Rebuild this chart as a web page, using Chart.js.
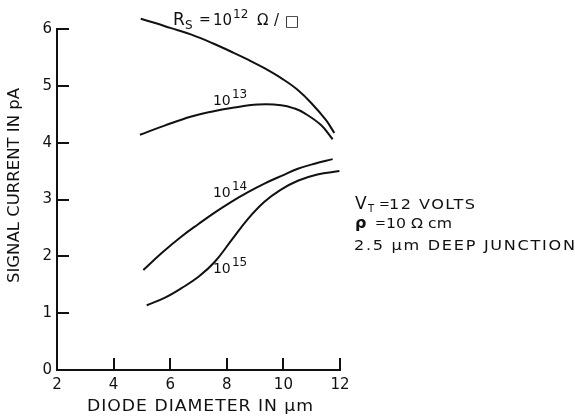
<!DOCTYPE html>
<html><head><meta charset="utf-8">
<script src="https://cdn.jsdelivr.net/npm/chart.js@4/dist/chart.umd.min.js"></script>
<style>html,body{margin:0;padding:0;background:#fff}#wrap{width:575px;height:416px}</style>
</head><body><div id="wrap"><canvas id="c" width="575" height="416"></canvas></div>
<script>
// ---- data ----
const xTicks = [2, 4, 6, 8, 10, 12];
const yTicks = [0, 1, 2, 3, 4, 5, 6];
const seriesNames = ['1e12', '1e13', '1e14', '1e15'];
const rs12X = [4.96, 5.5, 6.0, 6.75, 7.5, 8.16, 8.75, 9.33, 10.0, 10.5, 11.0, 11.5, 11.8];
const rs12Y = [6.18, 6.10, 6.02, 5.90, 5.75, 5.60, 5.46, 5.31, 5.11, 4.93, 4.69, 4.40, 4.17];
const rs13X = [4.93, 5.8, 6.75, 7.5, 8.16, 9.1, 9.92, 10.4, 10.74, 11.33, 11.74];
const rs13Y = [4.14, 4.30, 4.46, 4.55, 4.61, 4.67, 4.66, 4.60, 4.52, 4.31, 4.06];
const rs14X = [5.05, 5.7, 6.4, 7.0, 7.57, 8.16, 8.75, 9.33, 10.0, 10.51, 11.1, 11.74];
const rs14Y = [1.76, 2.06, 2.35, 2.57, 2.77, 2.96, 3.13, 3.28, 3.43, 3.54, 3.63, 3.71];
const rs15X = [5.17, 5.8, 6.4, 7.0, 7.57, 8.16, 8.75, 9.33, 9.9, 10.51, 11.2, 11.98];
const rs15Y = [1.14, 1.27, 1.44, 1.64, 1.90, 2.28, 2.66, 2.96, 3.17, 3.33, 3.44, 3.50];
const xTitle = 'DIODE DIAMETER IN \u03BCm';
const yTitle = 'SIGNAL CURRENT IN pA';

// ---- style / layout ----
const FONT = '"DejaVu Sans", sans-serif';
const INK = '#111';
const pts = (xs, ys) => xs.map((x, i) => ({x, y: ys[i]}));
const mk = (label, xs, ys) => ({
  label, data: pts(xs, ys), borderColor: INK, borderWidth: 2, pointRadius: 0,
  tension: 0.4, fill: false, clip: false
});

// annotation anchors in data units (left, baseline); segment offsets dx in px from anchor
const notes = [
  {x: 6.10, y: 6.07, segs: [{t:'R', s:17, dx:0}, {t:'S', s:12, dx:12, dy:4}, {t:'=', s:14, dx:26, dy:-1},
    {t:'10', s:15, dx:40}, {t:'12', s:12, dx:60, dy:-7}, {t:'\u03A9', s:15, dx:84},
    {t:'/', s:15, dx:101}, {t:'\u25A1', s:15, dx:112, dy:1}]},
  {x: 7.51, y: 4.66, segs: [{t:'10', s:14, dx:0}, {t:'13', s:12, dx:19, dy:-7}]},
  {x: 7.51, y: 3.04, segs: [{t:'10', s:14, dx:0}, {t:'14', s:12, dx:19, dy:-7}]},
  {x: 7.51, y: 1.71, segs: [{t:'10', s:14, dx:0}, {t:'15', s:12, dx:19, dy:-7}]},
  {x: 12.53, y: 2.83, segs: [{t:'V', s:17, dx:0}, {t:'T', s:10, dx:13, dy:3}, {t:'=', s:13, dx:24, dy:-1},
    {t:'12 VOLTS', s:14, dx:34, w:86}]},
  {x: 12.53, y: 2.50, segs: [{t:'\u03C1', s:16, dx:0, bold:true}, {t:'=', s:13, dx:20, dy:-1},
    {t:'10 \u03A9 cm', s:14, dx:31, w:66}]},
  {x: 12.53, y: 2.11, segs: [{t:'2.5 \u03BCm DEEP JUNCTION', s:14, dx:-1, w:221}]}
];

// fit text to visual width w: stretch horizontally (up to 1.15x), remainder via letter spacing
function prep(ctx, text, w) {
  ctx.letterSpacing = '0px';
  if (!w || text.length < 2) return {sx: 1};
  const base = ctx.measureText(text).width;
  const sx = Math.min(Math.max(w / base, 1), 1.15);
  const sp = (w / sx - base) / (text.length - 1);
  ctx.letterSpacing = sp + 'px';
  return {sx};
}
function drawAt(ctx, text, x, y, w) {
  ctx.save();
  const {sx} = prep(ctx, text, w);
  ctx.translate(x, y); ctx.scale(sx, 1);
  ctx.fillText(text, 0, 0);
  ctx.letterSpacing = '0px';
  ctx.restore();
}
function drawRich(ctx, x, y, segs) {
  for (const g of segs) {
    ctx.font = (g.bold ? 'bold ' : '') + g.s + 'px ' + FONT;
    drawAt(ctx, g.t, x + g.dx, y + (g.dy || 0), g.w);
  }
}
function fitText(ctx, text, cx, cy, width, size) {
  ctx.font = size + 'px ' + FONT;
  ctx.textAlign = 'left';
  ctx.textBaseline = 'middle';
  drawAt(ctx, text, cx - width / 2, cy, width);
}

const decor = {
  id: 'decor',
  beforeDraw(chart) { chart.ctx.letterSpacing = '0px'; },
  afterDraw(chart) {
    const {ctx, chartArea: a, scales: {x, y}} = chart;
    ctx.save();
    ctx.strokeStyle = INK; ctx.lineWidth = 2; ctx.lineCap = 'butt';
    // inward tick marks
    yTicks.filter(v => v > 0).forEach(v => {
      const py = Math.round(y.getPixelForValue(v));
      ctx.beginPath(); ctx.moveTo(a.left, py); ctx.lineTo(a.left + 12, py); ctx.stroke();
    });
    xTicks.filter(v => v > 2).forEach(v => {
      const px = Math.round(x.getPixelForValue(v));
      ctx.beginPath(); ctx.moveTo(px, a.bottom); ctx.lineTo(px, a.bottom - 12); ctx.stroke();
    });
    ctx.fillStyle = INK;
    // axis titles
    fitText(ctx, xTitle, 200, 407, 226, 15);
    ctx.save();
    ctx.translate(15.5, 185.5); ctx.rotate(-Math.PI / 2);
    fitText(ctx, yTitle, 0, 0, 195, 15);
    ctx.restore();
    // annotations
    ctx.textAlign = 'left'; ctx.textBaseline = 'alphabetic';
    notes.forEach(n => drawRich(ctx, x.getPixelForValue(n.x), y.getPixelForValue(n.y), n.segs));
    ctx.restore();
    ctx.letterSpacing = '0px';
  }
};

new Chart(document.getElementById('c'), {
  type: 'line',
  data: {datasets: [mk(seriesNames[0], rs12X, rs12Y), mk(seriesNames[1], rs13X, rs13Y),
                    mk(seriesNames[2], rs14X, rs14Y), mk(seriesNames[3], rs15X, rs15Y)]},
  options: {
    responsive: false, animation: false, devicePixelRatio: 1,
    layout: {padding: {top: 29, right: 235, left: 0, bottom: 0}},
    plugins: {legend: {display: false}, tooltip: {enabled: false}},
    scales: {
      x: {
        type: 'linear', min: 2, max: 12,
        afterBuildTicks: s => { s.ticks = xTicks.map(v => ({value: v})); },
        afterFit: s => { s.height = 46; },
        ticks: {color: INK, font: {family: FONT, size: 15}, padding: 6, maxRotation: 0},
        grid: {display: false, drawTicks: false},
        border: {display: true, color: INK, width: 2}
      },
      y: {
        type: 'linear', min: 0, max: 6,
        afterBuildTicks: s => { s.ticks = yTicks.map(v => ({value: v})); },
        afterFit: s => { s.width = 57; },
        ticks: {color: INK, font: {family: FONT, size: 15}, padding: 5},
        grid: {display: false, drawTicks: false},
        border: {display: true, color: INK, width: 2}
      }
    }
  },
  plugins: [decor]
});
</script>
</body></html>
